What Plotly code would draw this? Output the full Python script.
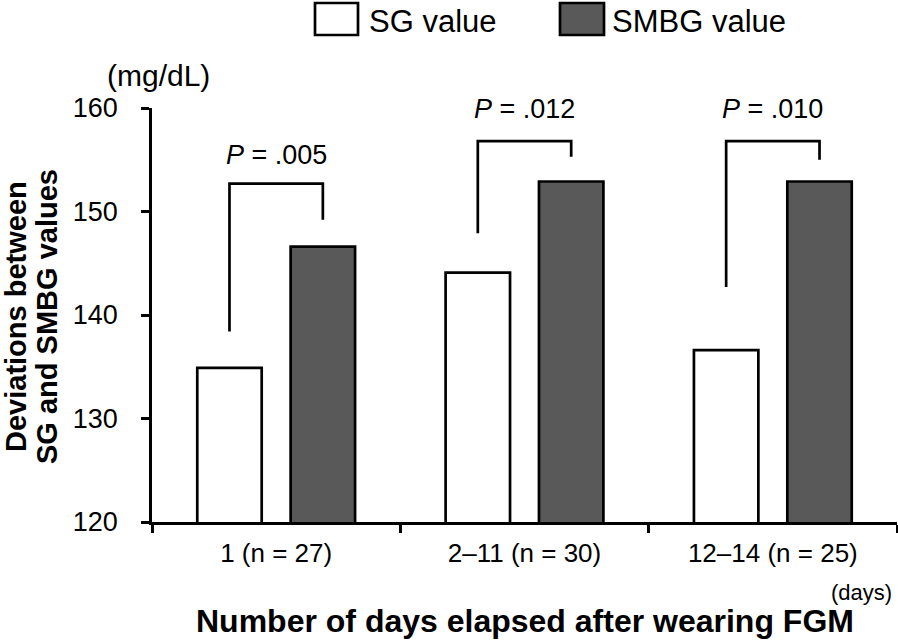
import plotly.graph_objects as go

categories = ["1 (n = 27)", "2\u201311 (n = 30)", "12\u201314 (n = 25)"]
sg_values = [134.9, 144.1, 136.6]
smbg_values = [146.6, 152.9, 152.9]
series_names = ["SG value", "SMBG value"]
p_labels = [".005", ".012", ".010"]
bracket_top = [152.7, 156.8, 156.8]
bracket_left_end = [138.4, 147.9, 142.7]
bracket_right_end = [149.2, 155.3, 155.0]
p_text_y = [155.5, 159.9, 159.9]
y_ticks = [120, 130, 140, 150, 160]

FONT = "Liberation Sans, Arial, sans-serif"
DARK = "#595959"

# reference-pixel helpers for paper coords (plot area 152..897 x, 108..522 y)
def px(X):
    return (X - 152) / 745.0

def py(Y):
    return (522 - Y) / 414.0

fig = go.Figure()
fig.add_trace(go.Bar(x=categories, y=sg_values, name=series_names[0],
                     marker=dict(color="white", line=dict(color="black", width=2.7)),
                     showlegend=False))
fig.add_trace(go.Bar(x=categories, y=smbg_values, name=series_names[1],
                     marker=dict(color=DARK, line=dict(color="black", width=2.7)),
                     showlegend=False))

bargap = 0.248
bargroupgap = 0.31
slot = (1 - bargap) / 2
for i, cat in enumerate(categories):
    xl = i - slot / 2
    xr = i + slot / 2
    fig.add_trace(go.Scatter(
        x=[xl, xl, xr, xr],
        y=[bracket_left_end[i], bracket_top[i], bracket_top[i], bracket_right_end[i]],
        mode="lines", line=dict(color="black", width=2.7),
        xaxis="x2", showlegend=False, hoverinfo="skip"))
    fig.add_annotation(x=i, y=p_text_y[i], xref="x2", yref="y",
                       text="<i>P</i> = " + p_labels[i], showarrow=False,
                       font=dict(family=FONT, size=27, color="black"))

fig.update_layout(
    width=898, height=641,
    margin=dict(l=152, r=1, t=108, b=119, pad=0),
    paper_bgcolor="white", plot_bgcolor="white",
    barmode="group", bargap=bargap, bargroupgap=bargroupgap,
    font=dict(family=FONT, color="black"),
    xaxis=dict(type="category", showline=True, linecolor="black", linewidth=2.5,
               ticks="outside", tickson="boundaries", ticklen=8, tickwidth=2.5,
               tickcolor="black", tickfont=dict(size=26), showgrid=False,
               range=[-0.5, 2.5], ticklabelstandoff=6),
    xaxis2=dict(overlaying="x", range=[-0.5, 2.5], visible=False),
    yaxis=dict(range=[120, 160], tickvals=y_ticks, showline=True, linecolor="black",
               linewidth=2.5, ticks="outside", ticklen=8, tickwidth=2.5, tickcolor="black",
               tickfont=dict(size=27), showgrid=False, zeroline=False, ticklabelstandoff=18),
)

# y-axis title (two lines), unit, x-axis title, (days)
fig.add_annotation(xref="paper", yref="paper", x=px(16), y=py(317), xanchor="center", yanchor="middle",
                   text="<b>Deviations between</b>", textangle=-90,
                   showarrow=False, font=dict(family=FONT, size=29, color="black"))
fig.add_annotation(xref="paper", yref="paper", x=px(47), y=py(317), xanchor="center", yanchor="middle",
                   text="<b>SG and SMBG values</b>", textangle=-90,
                   showarrow=False, font=dict(family=FONT, size=29, color="black"))
fig.add_annotation(xref="paper", yref="paper", x=px(158), y=py(75), xanchor="center", yanchor="middle",
                   text="(mg/dL)", showarrow=False, font=dict(family=FONT, size=30, color="black"))
fig.add_annotation(xref="paper", yref="paper", x=px(524.5), y=py(621), xanchor="center", yanchor="middle",
                   text="<b>Number of days elapsed after wearing FGM</b>", showarrow=False,
                   font=dict(family=FONT, size=32, color="black"))
fig.add_annotation(xref="paper", yref="paper", x=px(894), y=py(592), xanchor="right", yanchor="middle",
                   text="(days)", showarrow=False, font=dict(family=FONT, size=22, color="black"))

# legend boxes
legend_boxes = [(315, 358, "white"), (560, 604, DARK)]
legend_text_x = [367, 610]
for (x0, x1, col), tx, name in zip(legend_boxes, legend_text_x, series_names):
    fig.add_shape(type="rect", xref="paper", yref="paper",
                  x0=px(x0), x1=px(x1), y0=py(35), y1=py(3),
                  fillcolor=col, line=dict(color="black", width=2.7))
    fig.add_annotation(xref="paper", yref="paper", x=px(tx),
                       y=py(22), xanchor="left", yanchor="middle",
                       text=name, showarrow=False, font=dict(family=FONT, size=31, color="black"))

fig.write_html("out.html", config={"displayModeBar": False},
               post_script="document.body.style.margin='0';document.body.style.overflow='hidden';")
